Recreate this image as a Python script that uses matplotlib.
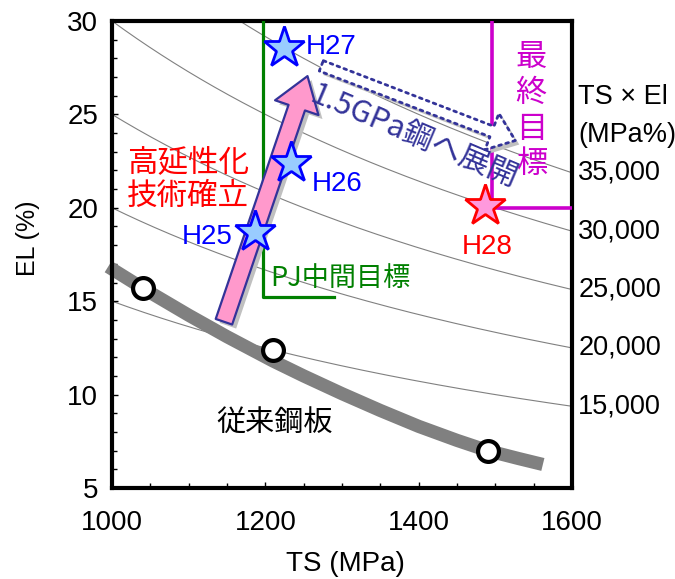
import numpy as np
import matplotlib.pyplot as plt
from matplotlib.patches import FancyArrowPatch
from matplotlib.transforms import offset_copy

plt.rcParams['font.family'] = ['Liberation Sans', 'Noto Sans CJK JP', 'DejaVu Sans']
JP = ['Noto Sans CJK JP', 'DejaVu Sans']

# iso TS x El curves
iso_levels = [15000, 20000, 25000, 30000, 35000]
iso_labels = ['15,000', '20,000', '25,000', '30,000', '35,000']

# conventional steel (circles + trend band)
conv_ts = [1040, 1210, 1490]
conv_el = [15.7, 12.4, 7.0]
band_ts = [995, 1040, 1100, 1150, 1210, 1250, 1300, 1350, 1400, 1450, 1490, 1530, 1562]
band_el = [16.85, 15.7, 14.25, 13.1, 11.8, 11.0, 10.05, 9.15, 8.3, 7.55, 7.0, 6.58, 6.26]

# project results
res_names = ['H25', 'H26', 'H27']
res_ts = [1186, 1234, 1224]
res_el = [18.7, 22.4, 28.55]
final_name = 'H28'
final_ts = [1486]
final_el = [20.1]

# targets
pj_ts, pj_el, pj_end = 1197, 15.2, 1290
goal_ts, goal_el = 1495, 20.0

fig = plt.figure(figsize=(6.75, 5.79), dpi=100)
ax = fig.add_axes([112 / 675, 1 - 488 / 579, 460 / 675, 467 / 579])
ax.set_xlim(1000, 1600)
ax.set_ylim(5, 30)

ts = np.linspace(1000, 1600, 300)
for c in iso_levels:
    ax.plot(ts, c / ts, color='#808080', lw=0.8, zorder=1)
for c, lab in zip(iso_levels, iso_labels):
    ax.text(1608, c / 1600, lab, ha='left', va='center', fontsize=19.5, clip_on=False)
ax.text(1608, 25.95, 'TS × El', ha='left', va='center', fontsize=19.5)
ax.text(1608, 23.9, '(MPa%)', ha='left', va='center', fontsize=19.5)

# conventional steel
ax.plot(band_ts, band_el, color='#808080', lw=9.5, solid_capstyle='butt',
        solid_joinstyle='round', clip_on=False, zorder=2)
ax.plot(conv_ts, conv_el, ls='none', marker='o', ms=15, mfc='white', mec='black',
        mew=3, clip_on=False, zorder=5)
ax.text(1136, 8.5, '従来鋼板', family=JP, fontsize=21, ha='left', va='center')

# target lines
ax.plot([pj_ts, pj_ts, pj_end], [30, pj_el, pj_el], color='#008000', lw=2.3, zorder=3)
ax.plot([goal_ts, goal_ts, 1600], [30, goal_el, goal_el], color='#cc00cc', lw=2.6, zorder=3)
ax.text(1207, 16.2, 'PJ中間目標', family=JP, fontsize=19.5, color='#008000',
        ha='left', va='center')
ax.text(1547, 25.2, '最\n終\n目\n標', family=JP, fontsize=22.5, color='#cc00cc',
        ha='center', va='center', linespacing=1.15)

# arrows with shadows
shadow_tr = offset_copy(ax.transData, fig=fig, x=4, y=-4, units='dots')
pink = 'simple,head_length=24,head_width=33,tail_width=12.5'
for tr, fc, ec, z in [(shadow_tr, '#c0c0c0', 'none', 3.5), (ax.transData, '#ff99cc', '#333399', 4)]:
    ax.add_patch(FancyArrowPatch((1146, 13.9), (1255, 27.05), arrowstyle=pink,
                                 mutation_scale=1, shrinkA=0, shrinkB=0, transform=tr,
                                 fc=fc, ec=ec, lw=1.6, zorder=z))
hollow = 'simple,head_length=18,head_width=28,tail_width=8'
for tr, fc, ec, ls, z in [(shadow_tr, '#c0c0c0', 'none', '-', 3.5),
                          (ax.transData, 'white', '#333399', ':', 4)]:
    ax.add_patch(FancyArrowPatch((1273, 27.6), (1526, 23.6), arrowstyle=hollow,
                                 mutation_scale=1, shrinkA=0, shrinkB=0, transform=tr,
                                 fc=fc, ec=ec, lw=2, ls=ls, zorder=z))
ax.text(1394, 23.8, '1.5GPa鋼へ展開', family=JP, fontsize=22, color='#333399',
        rotation=-23, rotation_mode='anchor', ha='center', va='center', zorder=7)
ax.text(1019, 21.5, '高延性化\n技術確立', family=JP, fontsize=22, color='red',
        ha='left', va='center', linespacing=1.08)

# results
ax.plot(res_ts, res_el, ls='none', marker='*', ms=31, mfc='#99ccff', mec='#0000ff',
        mew=2, zorder=6)
ax.plot(final_ts, final_el, ls='none', marker='*', ms=31, mfc='#ff99dd', mec='red',
        mew=2, zorder=6)
ax.text(1157, 18.45, res_names[0], fontsize=20, color='#0000ff', ha='right', va='center')
ax.text(1261, 21.3, res_names[1], fontsize=20, color='#0000ff', ha='left', va='center')
ax.text(1253, 28.6, res_names[2], fontsize=20, color='#0000ff', ha='left', va='center')
ax.text(1489, 17.9, final_name, fontsize=20, color='red', ha='center', va='center')

# axes styling
for s in ax.spines.values():
    s.set_linewidth(3)
ax.set_xticks([1000, 1200, 1400, 1600])
ax.set_xticks(np.arange(1000, 1601, 50), minor=True)
ax.set_yticks([5, 10, 15, 20, 25, 30])
ax.set_yticks(np.arange(5, 31, 1), minor=True)
ax.tick_params(which='both', direction='in', top=False, right=False, width=1, labelsize=20)
ax.tick_params(which='major', length=4)
ax.tick_params(which='minor', length=3.5)
ax.tick_params(axis='x', pad=16)
ax.tick_params(axis='y', pad=10)

fig.text(28 / 675, 1 - 238 / 579, 'EL (%)', rotation=90, ha='center', va='center', fontsize=18)
fig.text(345 / 675, 1 - 564 / 579, 'TS (MPa)', ha='center', va='center', fontsize=20)

fig.savefig('out.png', dpi=100)
